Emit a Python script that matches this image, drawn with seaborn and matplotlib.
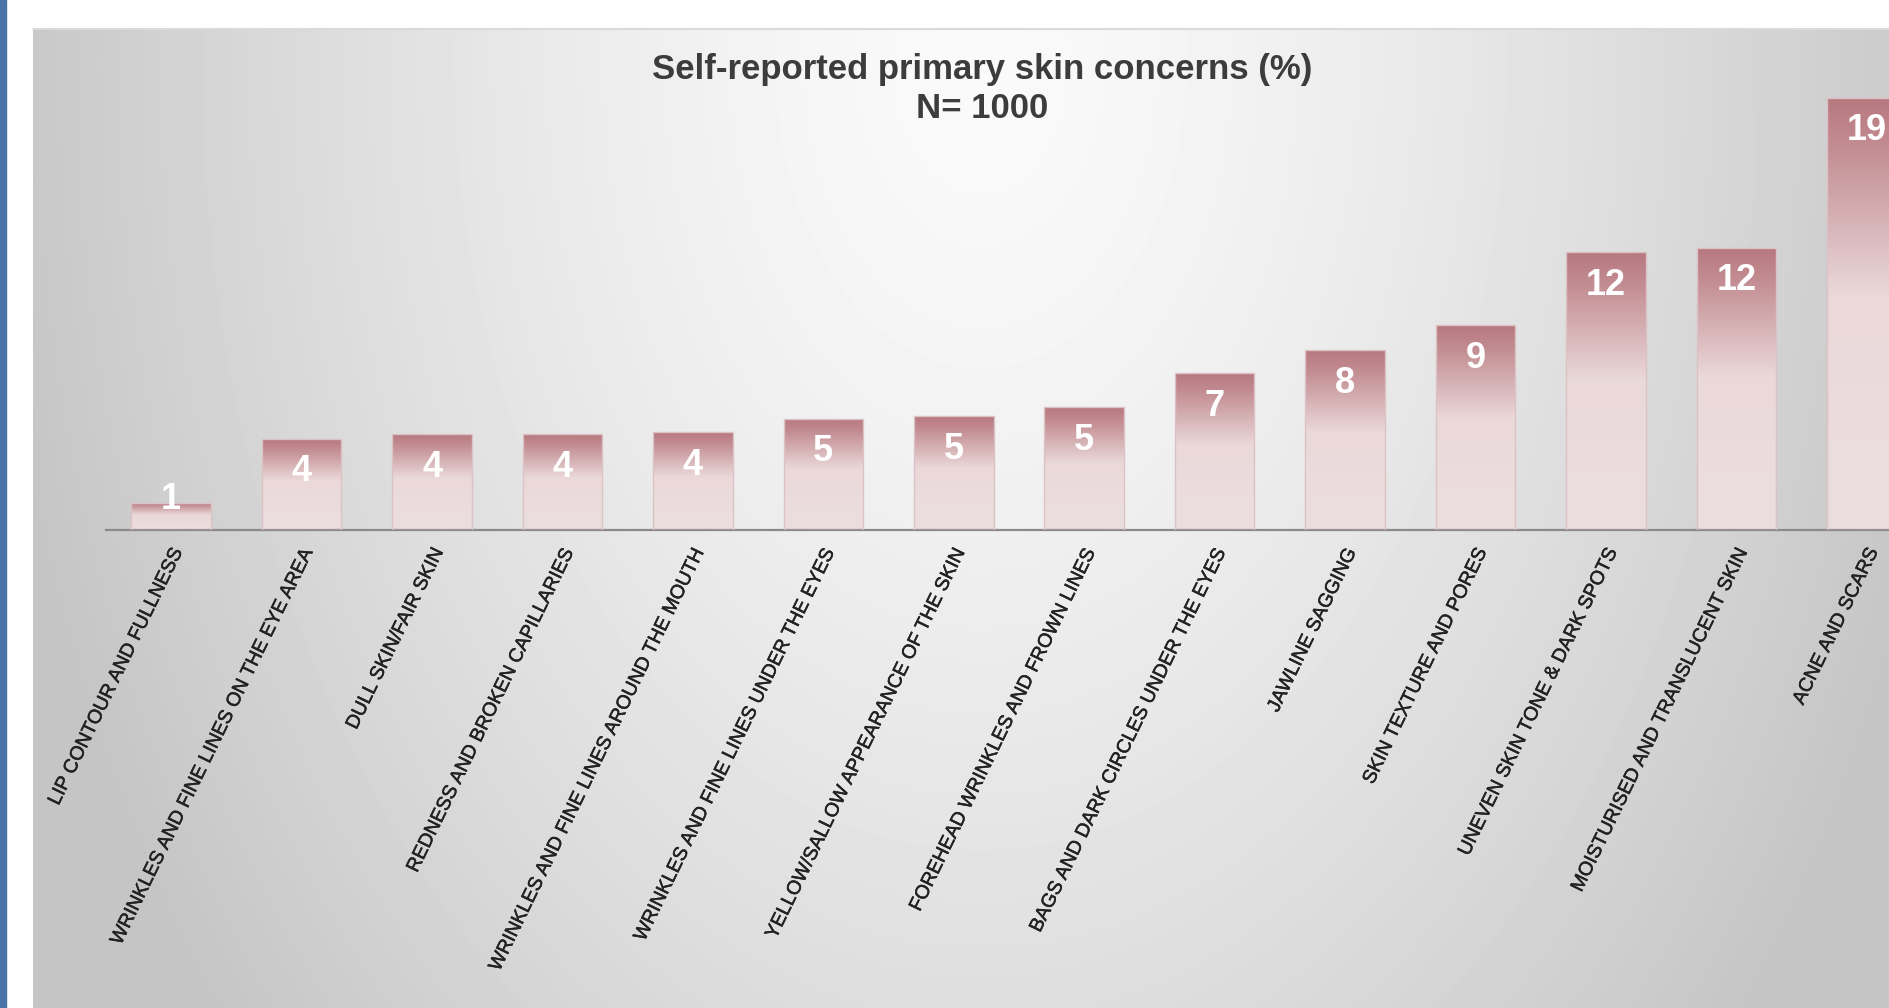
import matplotlib
matplotlib.use("Agg")
import matplotlib.pyplot as plt
import matplotlib.patheffects as pe
import numpy as np
import pandas as pd
import seaborn as sns
from matplotlib.colors import LinearSegmentedColormap
from matplotlib.patches import Rectangle

# data (% of respondents)
concerns = [
    "LIP CONTOUR AND FULLNESS",
    "WRINKLES AND FINE LINES ON THE EYE AREA",
    "DULL SKIN/FAIR SKIN",
    "REDNESS AND BROKEN CAPILLARIES",
    "WRINKLES AND FINE LINES AROUND THE MOUTH",
    "WRINKLES AND FINE LINES UNDER THE EYES",
    "YELLOW/SALLOW APPEARANCE OF THE SKIN",
    "FOREHEAD WRINKLES AND FROWN LINES",
    "BAGS AND DARK CIRCLES UNDER THE EYES",
    "JAWLINE SAGGING",
    "SKIN TEXTURE AND PORES",
    "UNEVEN SKIN TONE & DARK SPOTS",
    "MOISTURISED AND TRANSLUCENT SKIN",
    "ACNE AND SCARS",
]
share = [1.2, 4.0, 4.2, 4.2, 4.3, 4.9, 5.0, 5.4, 6.9, 7.9, 9.0, 12.2, 12.4, 19.0]

title = "Self-reported primary skin concerns (%)"
subtitle = "N= 1000"

df = pd.DataFrame({"concern": concerns, "share": share})

sns.set_theme(style="white")
plt.rcParams["font.family"] = ["Liberation Sans", "DejaVu Sans"]

W, H = 1889, 1008
fig = plt.figure(figsize=(W / 100, H / 100), dpi=100)
fig.patch.set_facecolor("white")

# blue strip on the left edge
fig.patches.append(
    Rectangle((0, 0), 6 / W, 1, transform=fig.transFigure, color="#4a74a6", zorder=0)
)

# grey panel with a soft radial gradient, brightest behind the title
bg = fig.add_axes([33 / W, 0, 1 - 33 / W, 1 - 29 / H], zorder=0)
px = np.arange(33, W)
py = np.arange(29, H)
gx, gy = np.meshgrid(px, py)
r = np.sqrt(((gx - 980) / 1000.0) ** 2 + ((gy - 60) / 1500.0) ** 2)
shade = 0.98 - 0.21 * np.clip(r, 0, 1) ** 1.4
bg.imshow(shade, cmap="gray", vmin=0, vmax=1, aspect="auto", interpolation="bilinear")
bg.set_axis_off()
fig.add_artist(
    plt.Line2D([33 / W, 1], [1 - 29 / H, 1 - 29 / H], transform=fig.transFigure,
               color="#dadada", lw=1.5)
)

# main bar axes (runs past the right edge like the original crop)
ax = fig.add_axes([106 / W, 478 / H, 1826 / W, 455 / H], zorder=2)
ax.patch.set_alpha(0)

sns.barplot(data=df, x="concern", y="share", ax=ax, width=0.61,
            color="#ecdcdd", saturation=1, zorder=2)

bar_cmap = LinearSegmentedColormap.from_list(
    "rose",
    [(0.0, "#b7787f"), (0.12, "#c38e93"), (0.46, "#ebd9da"), (1.0, "#ecdedf")],
)
grad = np.linspace(0, 1, 256).reshape(-1, 1)
for bar in ax.patches:
    x0, w, h = bar.get_x(), bar.get_width(), bar.get_height()
    im = ax.imshow(grad, cmap=bar_cmap, vmin=0, vmax=1, aspect="auto",
                   extent=[x0, x0 + w, 0, h], origin="upper", zorder=2)
    im.set_clip_path(bar)
    bar.set_facecolor("none")
    bar.set_edgecolor("#dcc2c5")
    bar.set_linewidth(1.0)
    bar.set_zorder(3)

for i, v in enumerate(share):
    ax.text(i, max(v - 1.45, 1.35), f"{v:.0f}", ha="center", va="center",
            color="white", fontsize=26, fontweight="bold", zorder=4)

ax.set_xlim(-0.5, len(concerns) - 0.5)
ax.set_ylim(0, 20)
ax.set_yticks([])
ax.set_xlabel("")
ax.set_ylabel("")
sns.despine(ax=ax, left=True)
ax.spines["bottom"].set_color("#8a8a8a")
ax.spines["bottom"].set_linewidth(1.6)
ax.tick_params(axis="x", length=0, pad=11)
for lab in ax.get_xticklabels():
    lab.set_rotation(64)
    lab.set_ha("right")
    lab.set_va("top")
    lab.set_rotation_mode("anchor")
    lab.set_fontsize(14)
    lab.set_color("#222222")
    lab.set_path_effects([pe.withStroke(linewidth=0.35, foreground="#222222")])

fig.text(982 / W, 1 - 69 / H, title, ha="center", va="center",
         fontsize=25, fontweight="bold", color="#3c3c3c")
fig.text(982 / W, 1 - 108 / H, subtitle, ha="center", va="center",
         fontsize=25, fontweight="bold", color="#3c3c3c")

fig.savefig("out.png", dpi=100)
